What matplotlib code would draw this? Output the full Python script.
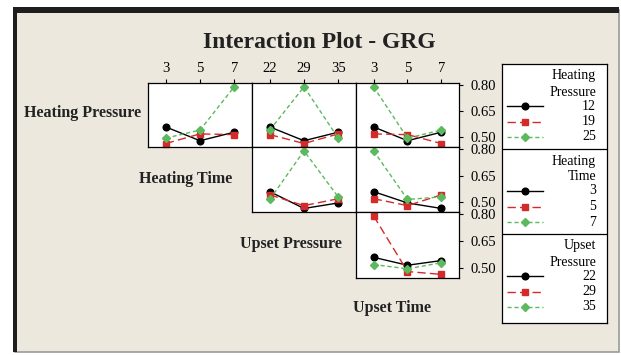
import numpy as np
import pandas as pd
import matplotlib.pyplot as plt
from matplotlib.patches import Rectangle


# style setting
W, H = 621, 355
plt.rcParams['figure.figsize'] = W / 100, H / 100
plt.rcParams['savefig.dpi'] = 100
plt.rcParams['font.family'] = ['Liberation Serif', 'DejaVu Serif']
plt.rcParams['font.size'] = 10

BEIGE = '#ECE8DE'

# L9 runs: factor levels and GRG value of each run
heating_pressure = [12, 12, 12, 19, 19, 19, 25, 25, 25]
heating_time = [3, 5, 7, 3, 5, 7, 3, 5, 7]
upset_pressure = [22, 29, 35, 29, 35, 22, 35, 22, 29]
upset_time = [3, 5, 7, 7, 3, 5, 5, 7, 3]
grg = [0.560, 0.481, 0.530, 0.465, 0.520, 0.516, 0.496, 0.542, 0.790]

factor_names = ['Heating Pressure', 'Heating Time', 'Upset Pressure', 'Upset Time']
legend_titles = ['Heating\nPressure', 'Heating\nTime', 'Upset\nPressure']
y_ticks = [0.50, 0.65, 0.80]

STYLES = [
    dict(color='black', ls='-', marker='o', ms=4.8),
    dict(color='#D42A2A', ls=(0, (6, 3)), marker='s', ms=4.8),
    dict(color='#5DB95D', ls=(0, (3, 2)), marker='D', ms=4.2),
]


def px_rect(x0, y0, x1, y1):
    return [x0 / W, 1 - y1 / H, (x1 - x0) / W, (y1 - y0) / H]


def panel(fig, df, row, col, cols_x, rows_y):
    trace = factor_names[row]
    xfac = factor_names[col + 1]
    ax = fig.add_axes(px_rect(cols_x[col], rows_y[row], cols_x[col + 1], rows_y[row + 1]))
    ax.set_zorder(5)
    ax.set_facecolor('white')
    table = df.groupby([trace, xfac])['GRG'].mean().unstack(xfac)
    xlev = list(table.columns)
    pos = np.arange(len(xlev))
    for i, lev in enumerate(table.index):
        ax.plot(pos, table.loc[lev].values, lw=1, clip_on=False, **STYLES[i])
    ax.set_xlim(-0.52, 2.52)
    ax.set_ylim(0.445, 0.812)
    ax.set_xticks(pos)
    ax.set_yticks(y_ticks)
    ax.tick_params(direction='out', length=3, width=0.8, labelsize=10.5)
    if row == 0:
        ax.xaxis.tick_top()
        ax.set_xticklabels([str(v) for v in xlev])
        ax.tick_params(axis='x', pad=3)
    else:
        ax.set_xticks([])
    if col == 2:
        ax.yaxis.tick_right()
        ax.set_yticklabels(['%.2f' % v for v in y_ticks])
        ax.tick_params(axis='y', pad=5)
    else:
        ax.set_yticks([])
    for s in ax.spines.values():
        s.set_linewidth(0.9)
    return ax


def legend(fig):
    ax = fig.add_axes(px_rect(502, 64, 607, 323))
    ax.set_zorder(5)
    ax.set_xlim(502, 607)
    ax.set_ylim(323, 64)
    ax.set_facecolor('white')
    ax.set_xticks([])
    ax.set_yticks([])
    for s in ax.spines.values():
        s.set_linewidth(0.9)
    tops = [64, 149, 234]
    levels = [sorted(set(heating_pressure)), sorted(set(heating_time)), sorted(set(upset_pressure))]
    for k, top in enumerate(tops):
        if k > 0:
            ax.axhline(top, color='black', lw=0.9)
        ax.text(596, top + 20, legend_titles[k], ha='right', va='center',
                fontsize=10, linespacing=1.3)
        for i, lev in enumerate(levels[k]):
            y = top + 42 + i * 15.5
            ax.plot([507, 525, 543], [y, y, y], lw=1, markevery=[1], **STYLES[i])
            ax.text(596, y, str(lev), ha='right', va='center', fontsize=10)


def main():
    df = pd.DataFrame({'Heating Pressure': heating_pressure, 'Heating Time': heating_time,
                       'Upset Pressure': upset_pressure, 'Upset Time': upset_time, 'GRG': grg})

    fig = plt.figure(facecolor='white')
    # frame / background
    fig.patches.append(Rectangle((15 / W, 1 - 352 / H), 604 / W, 342 / H, transform=fig.transFigure,
                                 facecolor=BEIGE, edgecolor='#9A9A9A', lw=1.2, zorder=-2))
    fig.patches.append(Rectangle((12.5 / W, 1 - 352 / H), 4.5 / W, 345 / H, transform=fig.transFigure,
                                 facecolor='#1E1E1E', edgecolor='none', zorder=-1))
    fig.patches.append(Rectangle((12.5 / W, 1 - 12.5 / H), 606.5 / W, 5.5 / H, transform=fig.transFigure,
                                 facecolor='#1E1E1E', edgecolor='none', zorder=-1))

    fig.text(319 / W, 1 - 42 / H, 'Interaction Plot - GRG', ha='center', va='center',
             fontsize=17, fontweight='bold', color='#222222')

    cols_x = [148, 252, 356, 459]
    rows_y = [83, 147, 212, 278]
    for row in range(3):
        for col in range(row, 3):
            panel(fig, df, row, col, cols_x, rows_y)

    label_pos = [(83, 113), (186, 179), (291, 244), (392, 308)]
    for name, (x, y) in zip(factor_names, label_pos):
        fig.text(x / W, 1 - y / H, name, ha='center', va='center',
                 fontsize=11.5, fontweight='bold', color='#222222')

    legend(fig)
    fig.savefig('out.png', dpi=100)


if __name__ == '__main__':
    main()
